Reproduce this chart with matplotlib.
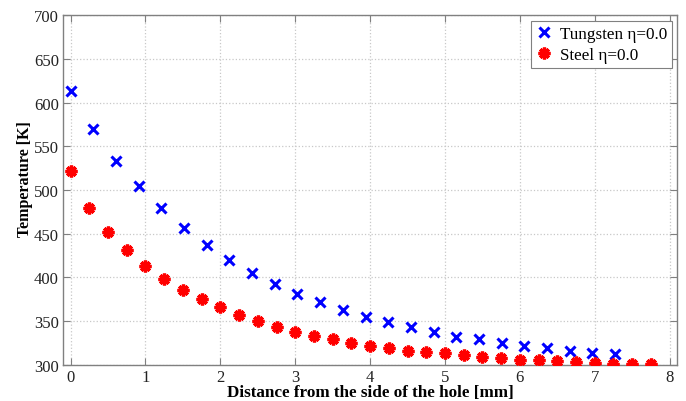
import matplotlib
matplotlib.use("Agg")
import matplotlib.pyplot as plt

# Tungsten, eta = 0.0
tungsten_x = [0.00, 0.30, 0.61, 0.91, 1.21, 1.52, 1.82, 2.12, 2.42, 2.73, 3.03, 3.33,
              3.64, 3.94, 4.24, 4.55, 4.85, 5.15, 5.45, 5.76, 6.06, 6.36, 6.67, 6.97, 7.27]
tungsten_t = [614, 570, 533, 505, 480, 457, 437, 420, 405, 392, 381, 372,
              363, 355, 349, 343, 338, 332, 329, 325, 322, 319, 316, 314, 312]

# Steel, eta = 0.0
steel_x = [0.00, 0.25, 0.50, 0.75, 1.00, 1.25, 1.50, 1.75, 2.00, 2.25, 2.50, 2.75,
           3.00, 3.25, 3.50, 3.75, 4.00, 4.25, 4.50, 4.75, 5.00, 5.25, 5.50, 5.75,
           6.00, 6.25, 6.50, 6.75, 7.00, 7.25, 7.50, 7.75]
steel_t = [522, 480, 452, 431, 413, 398, 386, 375, 366, 357, 350, 343,
           338, 333, 329, 325, 322, 319, 316, 315, 313, 311, 309, 308,
           306, 305, 304, 303, 302, 301, 300.5, 300.5]

x_ticks = [0, 1, 2, 3, 4, 5, 6, 7, 8]
y_ticks = [300, 350, 400, 450, 500, 550, 600, 650, 700]

plt.rcParams["font.family"] = ["Liberation Serif", "DejaVu Serif"]

fig = plt.figure(figsize=(6.86, 4.02), dpi=100)
ax = fig.add_axes([0.092, 0.09, 0.895, 0.869])

ax.plot(tungsten_x, tungsten_t, linestyle="none", marker="x", color="#0000ff",
        markersize=7, markeredgewidth=2.2, label="Tungsten η=0.0", zorder=3)
ax.plot(steel_x, steel_t, linestyle="none", marker=(8, 2, 0), color="#ff0000",
        markersize=8.5, markeredgewidth=2.4, label="Steel η=0.0", zorder=3)

ax.set_xlim(-0.1, 8.1)
ax.set_ylim(300, 700)
ax.set_xticks(x_ticks)
ax.set_yticks(y_ticks)
ax.tick_params(direction="in", top=True, right=True, length=5, width=0.8,
               color="#808080", labelsize=12, labelcolor="#222222", pad=3)
ax.grid(True, color="#c8c8c8", linestyle=":", linewidth=0.9)
ax.set_axisbelow(True)
for spine in ax.spines.values():
    spine.set_color("#808080")
    spine.set_linewidth(1.0)

ax.set_xlabel("Distance from the side of the hole [mm]", fontsize=12.3,
              fontweight="bold")
ax.xaxis.set_label_coords(0.5, -0.055)
ax.set_ylabel("Temperature [K]", fontsize=11.5, fontweight="bold")
ax.yaxis.set_label_coords(-0.049, 0.535)

leg = ax.legend(loc="upper right", fontsize=12.3, fancybox=False, framealpha=1,
                edgecolor="#808080", borderaxespad=0.3, handletextpad=0.4,
                handlelength=1.0, borderpad=0.3, labelspacing=0.3)
leg.get_frame().set_linewidth(0.8)

fig.savefig("out.png")
